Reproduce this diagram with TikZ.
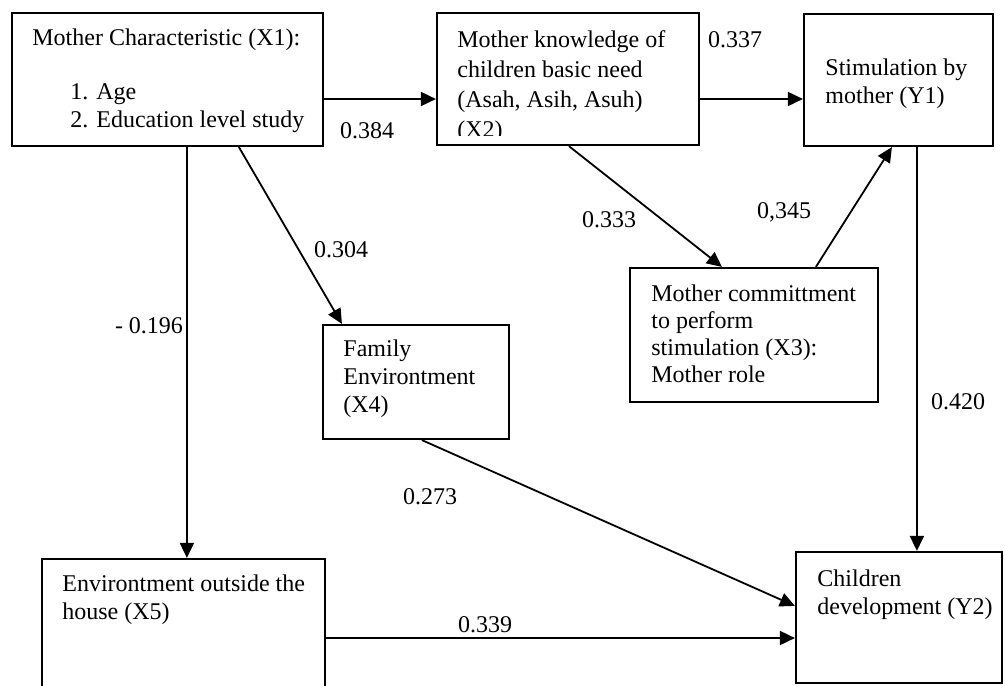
\documentclass[tikz,border=0pt]{standalone}
\usepackage{fontspec}
\setmainfont{Liberation Serif}
\usetikzlibrary{arrows.meta,fit,calc}
\tikzset{
  box/.style={draw, line width=1.1pt, inner sep=0pt},
  txt/.style={inner sep=0pt, anchor=north west, align=left, font=\fontsize{12}{14}\selectfont},
  lab/.style={inner sep=0pt, anchor=center, font=\fontsize{12}{14}\selectfont},
  arr/.style={line width=0.9pt, -{Triangle[length=7.5pt,width=7pt]}}
}
\begin{document}
\begin{tikzpicture}[x=0.5pt,y=-0.5pt]
\useasboundingbox (0,0) rectangle (1005,685);
\fill[white] (0,0) rectangle (1005,685);
\clip (0,0) rectangle (1005,685);
% boxes
\node[box, fit={(12,13)(323,146)}] (X1) {};
\node[box, fit={(437,13)(699,145)}] (X2) {};
\node[box, fit={(804,14)(993,146)}] (Y1) {};
\node[box, fit={(630,268)(878,402)}] (X3) {};
\node[box, fit={(323,325)(509,439)}] (X4) {};
\node[box, fit={(42,559)(325,720)}] (X5) {};
\node[box, fit={(796,552)(1002,683)}] (Y2) {};
% texts
\node[txt] (tX1) at (32,25.4) {\strut Mother Characteristic (X1):\\[13pt]\hspace*{19pt}1. Age\\\hspace*{19pt}2. Education level study};
\begin{scope}
\clip (437,13) rectangle (699,135);
\node[txt, font=\fontsize{12}{15}\selectfont] (tX2) at (457,26) {\strut Mother knowledge of\\children basic need\\(Asah, Asih, Asuh)\\(X2)};
\end{scope}
\node[txt] (tY1) at (825,55.4) {\strut Stimulation by\\mother (Y1)};
\node[txt, font=\fontsize{12}{13.5}\selectfont] (tX3) at (651,282.1) {\strut Mother committment\\to perform\\stimulation (X3):\\Mother role};
\node[txt] (tX4) at (343,336.4) {\strut Family\\Environtment\\(X4)};
\node[txt] (tX5) at (62,571.4) {\strut Environtment outside the\\house (X5)};
\node[txt] (tY2) at (817,566.4) {\strut Children\\development (Y2)};
% connectors
\coordinate (row1) at (0,99);
\draw[arr] (X1.east |- row1) -- (X2.west |- row1);
\draw[arr] (X2.east |- row1) -- (Y1.west |- row1);
\draw[arr] ($(X2.south west)+(133,0)$) -- ($(X3.north west)+(93,0)$);
\draw[arr] ($(X3.north west)+(187,0)$) -- ($(Y1.south west)+(89,0)$);
\draw[arr] ($(X1.south west)+(228,0)$) -- ($(X4.north west)+(20,0)$);
\draw[arr] ($(X1.south west)+(176,0)$) -- ($(X5.north west)+(146,0)$);
\draw[arr] ($(Y1.south west)+(114,0)$) -- ($(Y2.north west)+(122,0)$);
\draw[arr] ($(X4.south west)+(100,0)$) -- ($(Y2.north west)+(0,55)$);
\coordinate (row5) at (0,638);
\draw[arr] (X5.east |- row5) -- (Y2.west |- row5);
% labels
\node[lab] (l1) at (367,131) {0.384};
\node[lab] (l2) at (735,40) {0.337};
\node[lab] (l3) at (609,220) {0.333};
\node[lab] (l4) at (784,212) {0,345};
\node[lab] (l5) at (341,250) {0.304};
\node[lab] (l6) at (149,326) {- 0.196};
\node[lab] (l7) at (430,497) {0.273};
\node[lab] (l8) at (485,625) {0.339};
\node[lab] (l9) at (958,402) {0.420};
\end{tikzpicture}
\end{document}
